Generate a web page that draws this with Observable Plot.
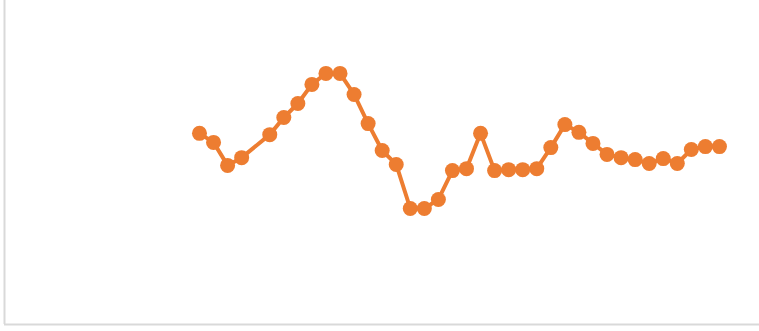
<!DOCTYPE html>
<html>
<head>
<meta charset="utf-8">
<script src="https://cdn.jsdelivr.net/npm/d3@7"></script>
<script src="https://cdn.jsdelivr.net/npm/@observablehq/plot@0.6"></script>
<style>
  html, body { margin: 0; padding: 0; background: #fff; }
</style>
</head>
<body>
<div id="chart"></div>
<script>
// Position index of each observation (slot 4 has no value)
const slots = [0,1,2,3,5,6,7,8,9,10,11,12,13,14,15,16,17,18,19,20,21,22,23,24,25,26,27,28,29,30,31,32,33,34,35,36,37];
const values = [59.0,56.2,49.1,51.5,58.6,63.9,68.2,74.1,77.5,77.5,71.0,62.0,53.7,49.4,35.8,35.8,38.6,47.5,48.1,59.0,47.5,47.8,47.8,48.1,54.6,61.7,59.3,55.9,52.5,51.5,50.9,49.7,51.2,49.7,54.0,54.9,54.9];
const xDomain = [-13.875, 39.85];
const yDomain = [0, 100];

const data = slots.map((s, i) => ({x: s, y: values[i]}));

const chart = Plot.plot({
  width: 759,
  height: 331,
  marginLeft: 4,
  marginRight: 0,
  marginTop: 0,
  marginBottom: 7,
  x: {domain: xDomain, axis: null},
  y: {domain: yDomain, axis: null},
  marks: [
    Plot.ruleX([xDomain[0]], {stroke: "#d9d9d9", strokeWidth: 2, y1: yDomain[0], y2: yDomain[1] * 1.03}),
    Plot.ruleY([yDomain[0]], {stroke: "#d9d9d9", strokeWidth: 2}),
    Plot.line(data, {x: "x", y: "y", stroke: "#ED7D31", strokeWidth: 4, curve: "linear"}),
    Plot.dot(data, {x: "x", y: "y", r: 7.5, fill: "#ED7D31", stroke: "none"})
  ]
});
chart.style.overflow = "visible";
document.getElementById("chart").appendChild(chart);
</script>
</body>
</html>
